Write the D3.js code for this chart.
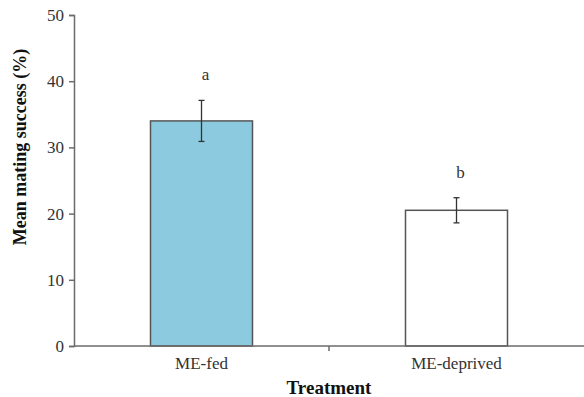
<!DOCTYPE html>
<html>
<head>
<meta charset="utf-8">
<script src="https://cdn.jsdelivr.net/npm/d3@7"></script>
<style>
  body { margin: 0; background: #fff; }
  svg { display: block; }
</style>
</head>
<body>
<svg></svg>
<script>
  var treatments = ["ME-fed", "ME-deprived"];
  var meanSuccess = [34.0, 20.5];
  var errorBars = [3.1, 1.9];
  var letters = ["a", "b"];
  var yTicks = [0, 10, 20, 30, 40, 50];

  var data = treatments.map(function(t, i) {
    return { name: t, value: meanSuccess[i], err: errorBars[i], letter: letters[i] };
  });

  var svgWidth = 584, svgHeight = 397;
  var margin = { top: 15, right: 0, bottom: 51, left: 74 };
  var width = svgWidth - margin.left - margin.right;
  var height = svgHeight - margin.top - margin.bottom;

  var svg = d3.select("svg")
    .attr("width", svgWidth)
    .attr("height", svgHeight);

  var g = svg.append("g")
    .attr("transform", "translate(" + margin.left + "," + margin.top + ")");

  var x = d3.scaleBand()
    .domain(treatments)
    .range([0, width])
    .paddingInner(0.6)
    .paddingOuter(0.3);

  var y = d3.scaleLinear().domain([0, 50]).range([height, 0]);

  var axisColor = "#6b6b6b";
  var font = "Liberation Serif, Times New Roman, serif";

  // bars
  g.selectAll("rect.bar")
    .data(data)
    .enter()
    .append("rect")
    .attr("class", "bar")
    .attr("x", function(d) { return x(d.name); })
    .attr("width", x.bandwidth())
    .attr("y", function(d) { return y(d.value); })
    .attr("height", function(d) { return height - y(d.value); })
    .attr("fill", function(d, i) { return i === 0 ? "#8ccbdf" : "#fff"; })
    .attr("stroke", "#555")
    .attr("stroke-width", 1.5);

  // error bars
  var eb = g.selectAll("g.err")
    .data(data)
    .enter()
    .append("g")
    .attr("class", "err")
    .attr("stroke", "#333")
    .attr("stroke-width", 1.3);

  eb.append("line")
    .attr("x1", function(d) { return x(d.name) + x.bandwidth() / 2; })
    .attr("x2", function(d) { return x(d.name) + x.bandwidth() / 2; })
    .attr("y1", function(d) { return y(d.value + d.err); })
    .attr("y2", function(d) { return y(d.value - d.err); });

  [1, -1].forEach(function(s) {
    eb.append("line")
      .attr("x1", function(d) { return x(d.name) + x.bandwidth() / 2 - 3; })
      .attr("x2", function(d) { return x(d.name) + x.bandwidth() / 2 + 3; })
      .attr("y1", function(d) { return y(d.value + s * d.err); })
      .attr("y2", function(d) { return y(d.value + s * d.err); });
  });

  // significance letters
  g.selectAll("text.letter")
    .data(data)
    .enter()
    .append("text")
    .attr("class", "letter")
    .attr("x", function(d) { return x(d.name) + x.bandwidth() / 2 + 4; })
    .attr("y", function(d) { return y(d.value + d.err) - 20; })
    .attr("text-anchor", "middle")
    .attr("font-family", font)
    .attr("font-size", 17)
    .attr("fill", "#333")
    .text(function(d) { return d.letter; });

  // y axis
  var yAxis = g.append("g")
    .call(d3.axisLeft(y).tickValues(yTicks).tickSize(5).tickPadding(5));
  yAxis.attr("font-family", font).attr("font-size", 17);
  yAxis.selectAll("path, line").attr("stroke", axisColor).attr("stroke-width", 1.5);
  yAxis.selectAll("text").attr("fill", "#333");

  // x axis: ticks sit between categories
  var xAxis = g.append("g")
    .attr("transform", "translate(0," + height + ")");
  xAxis.append("line")
    .attr("x1", 0).attr("x2", width)
    .attr("stroke", axisColor).attr("stroke-width", 1.5);
  var bounds = [x(treatments[1]) - x.step() * x.paddingInner() / 2];
  xAxis.selectAll("line.tick")
    .data(bounds)
    .enter()
    .append("line")
    .attr("class", "tick")
    .attr("x1", function(d) { return d; })
    .attr("x2", function(d) { return d; })
    .attr("y1", 0).attr("y2", 5)
    .attr("stroke", axisColor).attr("stroke-width", 1.5);
  xAxis.selectAll("text.cat")
    .data(treatments)
    .enter()
    .append("text")
    .attr("class", "cat")
    .attr("x", function(d) { return x(d) + x.bandwidth() / 2; })
    .attr("y", 23)
    .attr("text-anchor", "middle")
    .attr("font-family", font)
    .attr("font-size", 17)
    .attr("fill", "#333")
    .text(function(d) { return d; });

  // axis titles
  svg.append("text")
    .attr("x", margin.left + width / 2)
    .attr("y", 394)
    .attr("text-anchor", "middle")
    .attr("font-family", font)
    .attr("font-weight", "bold")
    .attr("font-size", 19)
    .attr("fill", "#111")
    .text("Treatment");

  svg.append("text")
    .attr("transform", "translate(26,147) rotate(-90)")
    .attr("text-anchor", "middle")
    .attr("font-family", font)
    .attr("font-weight", "bold")
    .attr("font-size", 18)
    .attr("fill", "#111")
    .text("Mean mating success (%)");
</script>
</body>
</html>
